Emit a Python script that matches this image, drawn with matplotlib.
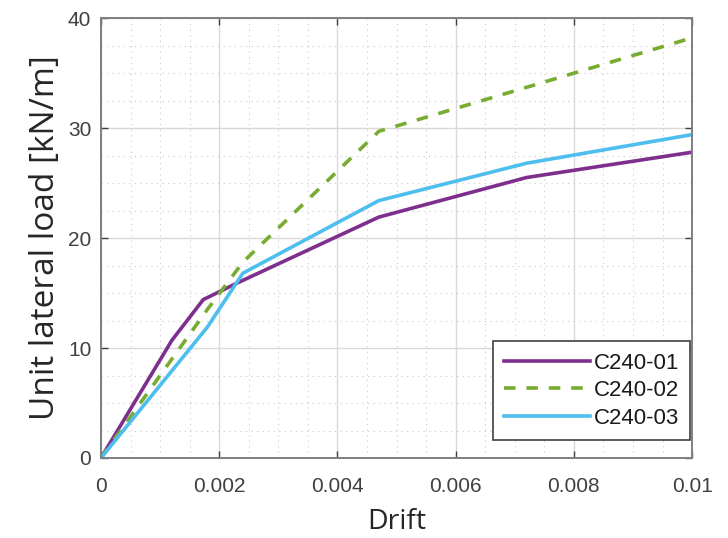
import matplotlib.pyplot as plt
from matplotlib.ticker import MultipleLocator

# drift / unit lateral load [kN/m]
drift_01 = [0.0, 0.0012, 0.00173, 0.0023, 0.0047, 0.0072, 0.0100]
load_01 = [0.0, 10.7, 14.4, 15.9, 21.9, 25.5, 27.8]

drift_02 = [0.0, 0.0012, 0.0018, 0.0024, 0.0047, 0.0072, 0.0100]
load_02 = [0.0, 9.0, 13.5, 17.8, 29.7, 33.7, 38.2]

drift_03 = [0.0, 0.0018, 0.0024, 0.0047, 0.0072, 0.0100]
load_03 = [0.0, 11.9, 16.8, 23.4, 26.8, 29.4]

labels = ["C240-01", "C240-02", "C240-03"]
x_ticks = [0, 0.002, 0.004, 0.006, 0.008, 0.01]
x_tick_labels = ["0", "0.002", "0.004", "0.006", "0.008", "0.01"]

tick_color = "#404040"

fig = plt.figure(figsize=(7.28, 5.38), dpi=100)
ax = fig.add_axes([0.1387, 0.1487, 0.812, 0.8178])

ax.plot(drift_01, load_01, color="#7E2F8E", lw=2.6, label=labels[0])
ax.plot(drift_02, load_02, color="#77AC30", lw=2.6, ls=(0, (3.2, 3.0)), label=labels[1])
ax.plot(drift_03, load_03, color="#4DBEEE", lw=2.6, label=labels[2])

ax.set_xlim(0, 0.01)
ax.set_ylim(0, 40)
ax.set_xticks(x_ticks)
ax.set_xticklabels(x_tick_labels)
ax.xaxis.set_minor_locator(MultipleLocator(0.0005))
ax.yaxis.set_major_locator(MultipleLocator(10))
ax.yaxis.set_minor_locator(MultipleLocator(2.5))

ax.grid(True, which="major", color="#d9d9d9", lw=1.0)
ax.grid(True, which="minor", color="#c8c8c8", lw=0.8, ls=(0, (1, 4)))
ax.set_axisbelow(True)

ax.tick_params(which="both", direction="in", top=True, right=True,
               colors=tick_color, labelsize=15, labelfontfamily="Liberation Sans")
ax.tick_params(which="major", length=5, width=1.0)
ax.tick_params(axis="x", which="major", pad=14)
ax.tick_params(axis="y", which="major", pad=7)
ax.tick_params(which="minor", length=0)
for spine in ax.spines.values():
    spine.set_color("#7f7f7f")
    spine.set_linewidth(1.4)

ax.set_xlabel("Drift", fontsize=20.5, family="Open Sans", color="#262626", labelpad=8)
ax.set_ylabel("Unit lateral load [kN/m]", fontsize=24, family="Open Sans",
              color="#262626", labelpad=4)

leg = ax.legend(loc="lower right", bbox_to_anchor=(0.9966, 0.041), fancybox=False,
                framealpha=1, handlelength=3.9, prop={"family": "Liberation Sans", "size": 16},
                borderpad=0.5, labelspacing=0.3, handletextpad=0.15, borderaxespad=0.0)
leg.get_frame().set_edgecolor("#404040")
leg.get_frame().set_linewidth(1.2)
for text in leg.get_texts():
    text.set_color("#1a1a1a")

fig.savefig("out.png", dpi=100)
